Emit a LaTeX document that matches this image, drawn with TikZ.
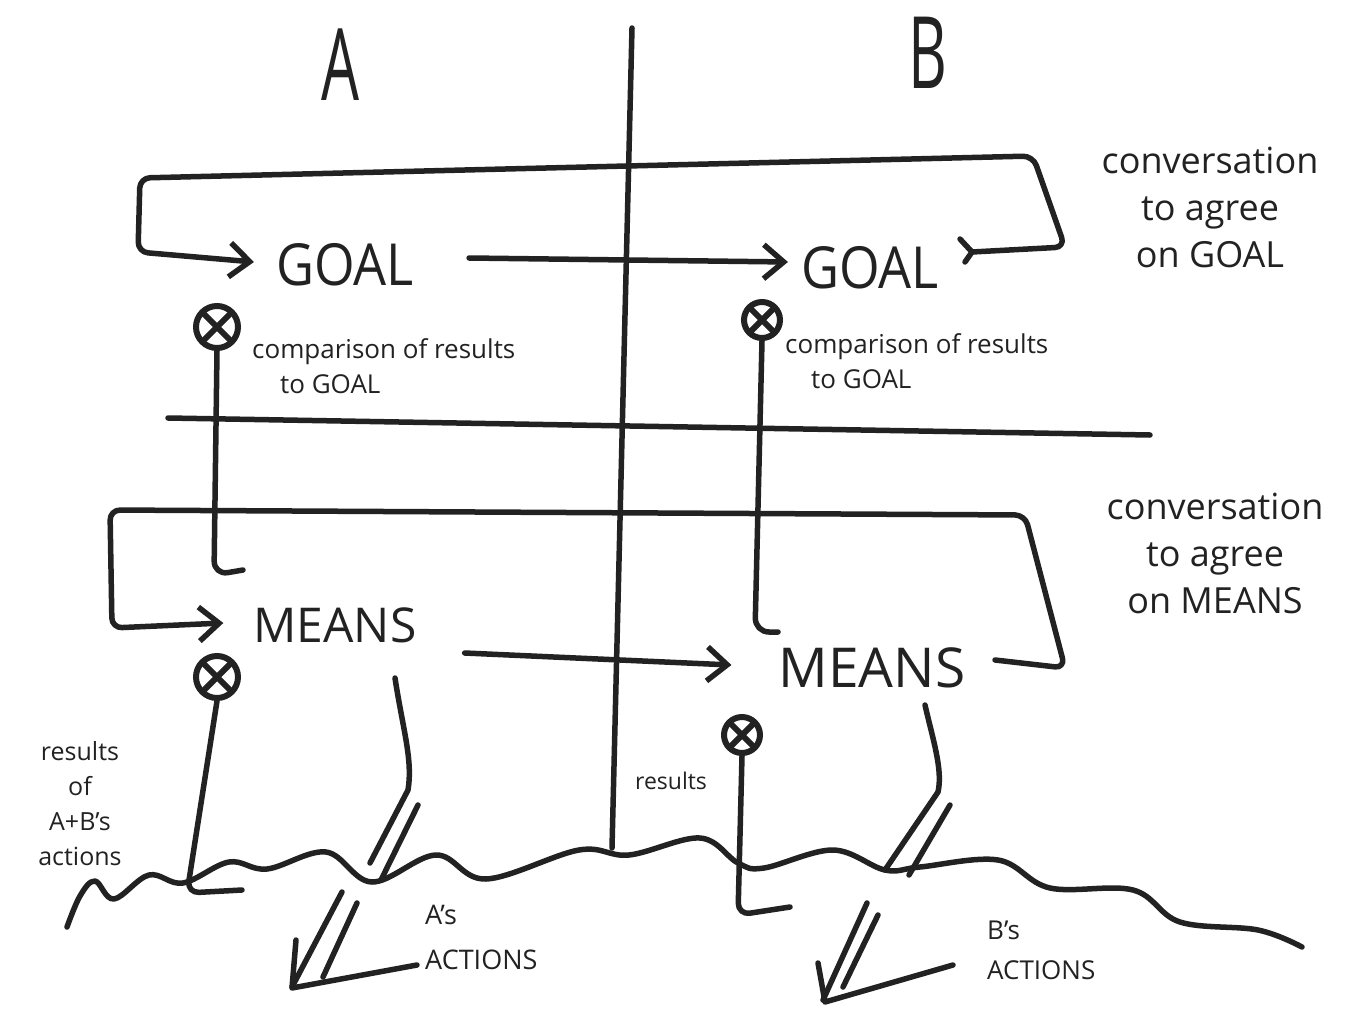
\documentclass[tikz,border=0pt]{standalone}
\usepackage{fontspec}
\setmainfont{Open Sans}
\usetikzlibrary{arrows.meta}
\definecolor{ink}{HTML}{222222}
\begin{document}
\begin{tikzpicture}[x=1pt,y=-1pt,
  ink/.style={draw=ink, line width=5.5pt, line cap=round, line join=round},
  hand/.style={text=ink, inner sep=2pt},
  cmp/.style={circle, draw=ink, line width=6pt, inner sep=0pt, minimum size=#1,
    path picture={\draw[ink, line width=6pt] (path picture bounding box.south west) -- (path picture bounding box.north east)
      (path picture bounding box.north west) -- (path picture bounding box.south east);}},
  barb/.style={-{Straight Barb[length=20pt,width=34pt]}},
  bigletter/.style={hand, font=\fontsize{100}{100}\selectfont},
  word/.style={hand, font=\fontsize{#1}{#1}\selectfont},
  note/.style={hand, font=\fontsize{26}{35}\selectfont, align=left},
  conv/.style={hand, font=\fontsize{36}{47}\selectfont, align=center},
]
\useasboundingbox[fill=white] (0,0) rectangle (1363,1009);

% column headings
\node[bigletter] (A) at (340,65) {\scalebox{0.6}[1]{A}};
\node[bigletter] (B) at (928,53) {\scalebox{0.6}[1]{B}};

% dividers
\coordinate (divTop) at (632,28);
\coordinate (divBot) at (612,848);
\draw[ink] (divTop) -- (divBot);
\coordinate (midL) at (168,418);
\coordinate (midR) at (1150,435);
\draw[ink] (midL) -- (midR);

% GOAL and MEANS words
\node[word=58] (goalA) at (345,265) {\scalebox{0.9}[1]{GOAL}};
\node[word=58] (goalB) at (870,268) {\scalebox{0.9}[1]{GOAL}};
\node[word=48] (meansA) at (335,625) {MEANS};
\node[word=55] (meansB) at (872,668) {MEANS};

% comparators
\node[cmp=42pt] (cmpA1) at (217,327) {};
\node[cmp=36pt] (cmpB1) at (762,320) {};
\node[cmp=42pt] (cmpA2) at (217,677) {};
\node[cmp=36pt] (cmpB2) at (742,735) {};

% top loop: conversation to agree on GOAL
\coordinate (tl1) at (972,252);
\coordinate (tl2) at (1065,247);
\coordinate (tl3) at (1033,156);
\coordinate (tl4) at (140,178);
\coordinate (tl5) at (138,252);
\draw[ink, rounded corners=10pt, barb] (tl1) -- (tl2) -- (tl3) -- (tl4) -- (tl5) -- ([shift={(-20,-3)}]goalA.west);
\draw[ink] (960,239) -- (tl1) -- (965,262);

% GOAL A -> GOAL B
\draw[ink, barb] ([shift={(53,-7)}]goalA.east) -- ([shift={(-11,-6)}]goalB.west);

% bottom loop: conversation to agree on MEANS
\coordinate (bl1) at (995,660);
\coordinate (bl2) at (1065,668);
\coordinate (bl3) at (1025,515);
\coordinate (bl4) at (110,510);
\coordinate (bl5) at (112,628);
\draw[ink, rounded corners=10pt, barb] (bl1) -- (bl2) -- (bl3) -- (bl4) -- (bl5) -- ([shift={(-28,-2)}]meansA.west);

% MEANS A -> MEANS B
\draw[ink, barb] ([shift={(46,28)}]meansA.east) -- ([shift={(-45,-3)}]meansB.west);

% comparator feedback lines
\draw[ink, rounded corners=14pt] (cmpA1.south) -- (214,575) -- (243,570);
\draw[ink, rounded corners=14pt] (cmpB1.south) -- (755,632) -- (778,632);
\draw[ink, rounded corners=12pt] (cmpA2.south) -- (187,893) -- (242,890);
\draw[ink, rounded corners=12pt] (cmpB2.south) -- (738,915) -- (790,907);

% actions lines from MEANS to the world
\coordinate (dA0) at (395,678);
\draw[ink] (dA0) .. controls (403,730) and (413,760) .. (408,790) -- (370,863);
\draw[ink] (418,805) -- (381,880);
\coordinate (dB0) at (925,705);
\draw[ink] (dB0) .. controls (933,740) and (943,770) .. (938,792) -- (885,870);
\draw[ink] (950,805) -- (909,875);

% the world (wavy ground)
\draw[ink] plot[smooth, tension=0.6] coordinates {(67,927) (80,896) (95,881) (114,899) (149,875) (183,883) (229,862) (267,869) (326,852) (372,882) (436,855) (486,879) (579,850) (629,855) (700,838) (738,863) (764,868) (833,850) (885,870) (920,867) (998,860) (1050,888) (1133,890) (1180,922) (1258,930) (1302,947)};

% actions arrows below ground
\draw[ink] (342,892) -- (292,987);
\draw[ink] (357,903) -- (323,977);
\draw[ink] (296,940) -- (292,988) -- (417,965);
\draw[ink] (867,903) -- (823,1000);
\draw[ink] (878,915) -- (843,987);
\draw[ink] (818,963) -- (825,1002) -- (953,965);

% labels
\node[note, anchor=west] (cmpLabA) at (250,366) {comparison of results\\\hspace*{28pt}to GOAL};
\node[note, anchor=west] (cmpLabB) at (783,361) {comparison of results\\\hspace*{26pt}to GOAL};
\node[conv] (convGoal) at (1210,207) {conversation\\to agree\\on GOAL};
\node[conv] (convMeans) at (1215,553) {conversation\\to agree\\on MEANS};
\node[hand, font=\fontsize{25}{35}\selectfont, align=center] (resAB) at (80,804) {results\\of\\A+B's\\actions};
\node[hand, font=\fontsize{23}{26}\selectfont] (resB) at (671,781) {results};
\node[hand, font=\fontsize{27}{45}\selectfont, align=left, anchor=west] (actA) at (423,937) {A's\\ACTIONS};
\node[hand, font=\fontsize{26}{40}\selectfont, align=left, anchor=west] (actB) at (985,950) {B's\\ACTIONS};
\end{tikzpicture}
\end{document}
